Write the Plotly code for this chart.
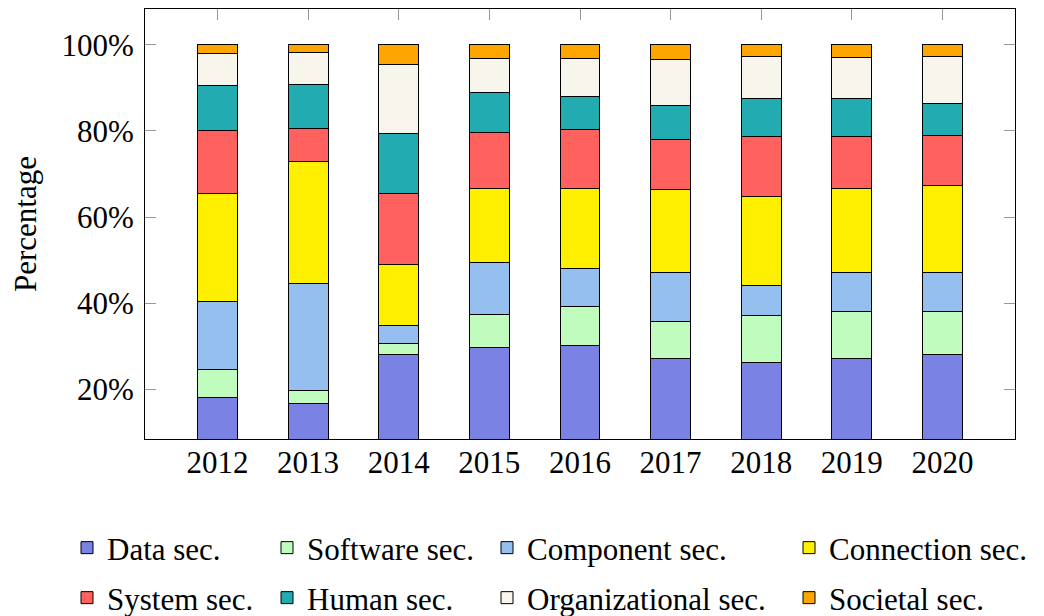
import plotly.graph_objects as go

years = ["2012", "2013", "2014", "2015", "2016", "2017", "2018", "2019", "2020"]
data_sec = [18.2, 16.7, 28.0, 29.8, 30.1, 27.1, 26.3, 27.2, 28.1]
software_sec = [6.4, 3.1, 2.7, 7.6, 9.1, 8.7, 10.9, 11.0, 10.1]
component_sec = [15.7, 24.7, 4.1, 12.1, 8.9, 11.4, 7.0, 8.9, 8.9]
connection_sec = [25.1, 28.3, 14.1, 17.2, 18.5, 19.2, 20.5, 19.5, 20.2]
system_sec = [14.6, 7.7, 16.5, 13.0, 13.8, 11.5, 14.1, 12.2, 11.7]
human_sec = [10.5, 10.2, 14.0, 9.3, 7.7, 8.0, 8.7, 8.7, 7.3]
organizational_sec = [7.5, 7.6, 16.0, 7.7, 8.6, 10.6, 9.8, 9.5, 11.0]
societal_sec = [2.0, 1.7, 4.6, 3.3, 3.3, 3.5, 2.7, 3.0, 2.7]

y_tick_values = [20, 40, 60, 80, 100]
y_tick_labels = ["20%", "40%", "60%", "80%", "100%"]

series = [
    ("Data sec.", data_sec, "#7a82e4"),
    ("Software sec.", software_sec, "#c0fcbe"),
    ("Component sec.", component_sec, "#94bfef"),
    ("Connection sec.", connection_sec, "#fff000"),
    ("System sec.", system_sec, "#ff625e"),
    ("Human sec.", human_sec, "#22abb1"),
    ("Organizational sec.", organizational_sec, "#f8f6ec"),
    ("Societal sec.", societal_sec, "#ffa500"),
]

FONT = "Liberation Serif"
FS = 31
OFF = 8  # page body margin
W, H = 1044 - OFF, 616 - OFF
# legend slot positions on screen (text start x, row centre y)
col_text_x = [108, 308, 528, 830]
row_y = [548, 598]

fig = go.Figure()
legends = {}
for i, (name, vals, color) in enumerate(series):
    lg = "legend" if i == 0 else f"legend{i + 1}"
    fig.add_trace(go.Bar(
        x=years, y=vals, name=name, legend=lg,
        marker=dict(color=color, line=dict(color="black", width=1)),
        width=0.44,
    ))
    col, row = i % 4, i // 4
    legends[lg] = dict(
        xref="container", yref="container",
        x=(col_text_x[col] - OFF - 41) / W, xanchor="left",
        y=1 - (row_y[row] - OFF) / H, yanchor="middle",
        orientation="h", font=dict(family=FONT, size=FS, color="black"),
        bgcolor="rgba(0,0,0,0)", itemwidth=30,
    )

fig.update_layout(
    width=W, height=H,
    margin=dict(l=145 - OFF, r=1044 - 1015, t=9 - OFF, b=616 - 439),
    plot_bgcolor="white", paper_bgcolor="white",
    barmode="stack",
    font=dict(family=FONT, size=FS, color="black"),
    showlegend=True,
    **legends,
)
fig.update_xaxes(
    type="category", range=[-0.8, 8.8],
    showline=True, linecolor="black", linewidth=1, mirror="allticks",
    ticks="inside", ticklen=11, tickcolor="#999999", tickwidth=1,
    layer="below traces", tickangle=0, ticklabelstandoff=-4,
    tickfont=dict(family=FONT, size=FS, color="black"),
    showgrid=False, zeroline=False,
)
fig.update_yaxes(
    range=[8.5, 108.3],
    tickmode="array", tickvals=y_tick_values, ticktext=y_tick_labels,
    showline=True, linecolor="black", linewidth=1, mirror="allticks",
    ticks="inside", ticklen=11, tickcolor="#999999", tickwidth=1,
    tickfont=dict(family=FONT, size=FS, color="black"),
    ticklabelstandoff=4,
    title=dict(text="Percentage", font=dict(family=FONT, size=FS, color="black"), standoff=25),
    showgrid=False, zeroline=False,
)
fig.write_html("out.html")
